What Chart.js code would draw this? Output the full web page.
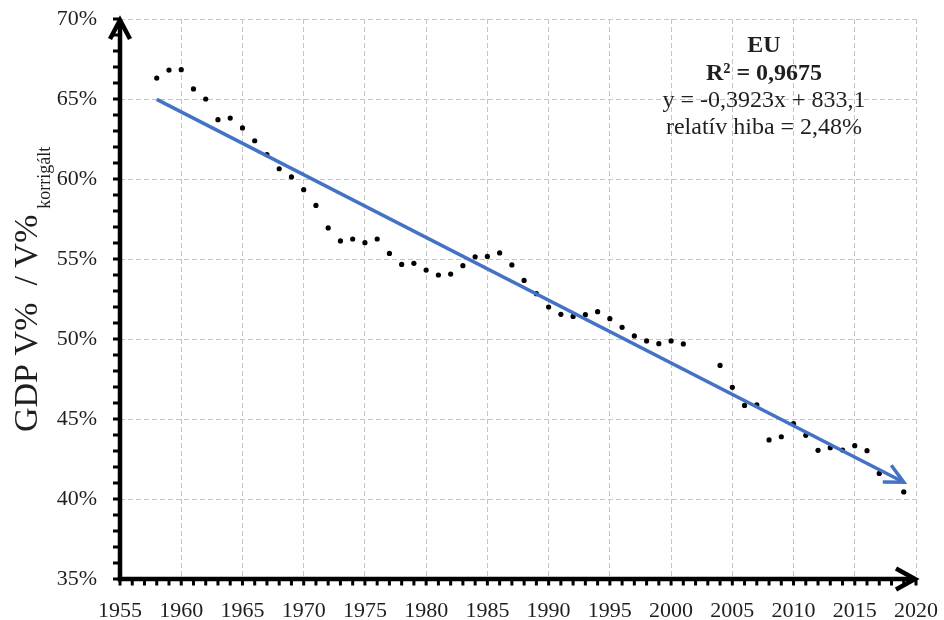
<!DOCTYPE html>
<html><head><meta charset="utf-8">
<script src="https://cdn.jsdelivr.net/npm/chart.js@4"></script>
<style>html,body{margin:0;padding:0;background:#fff}#wrap{width:944px;height:620px}</style>
</head><body><div id="wrap"><canvas id="c" width="944" height="620"></canvas></div>
<script>
// ---- data ----
const years = [1958,1959,1960,1961,1962,1963,1964,1965,1966,1967,1968,1969,1970,1971,1972,1973,1974,1975,1976,1977,1978,1979,1980,1981,1982,1983,1984,1985,1986,1987,1988,1989,1990,1991,1992,1993,1994,1995,1996,1997,1998,1999,2000,2001,2004,2005,2006,2007,2008,2009,2010,2011,2012,2013,2014,2015,2016,2017,2019];
const values = [66.31,66.81,66.83,65.63,65.00,63.71,63.81,63.19,62.39,61.52,60.64,60.13,59.33,58.35,56.94,56.13,56.25,56.02,56.25,55.35,54.66,54.73,54.31,54.00,54.06,54.58,55.14,55.16,55.38,54.63,53.66,52.83,52.00,51.54,51.41,51.52,51.71,51.27,50.73,50.19,49.88,49.71,49.88,49.69,48.35,46.98,45.85,45.88,43.69,43.89,44.71,43.98,43.04,43.21,43.06,43.33,43.02,41.60,40.44];
const trendYears = [1958, 2019];
const trendValues = [64.98, 41.05];
const xTickValues = [1955,1960,1965,1970,1975,1980,1985,1990,1995,2000,2005,2010,2015,2020];
const yTickValues = [35,40,45,50,55,60,65,70];
const annotationLines = ['EU', 'R² = 0,9675', 'y = -0,3923x + 833,1', 'relatív hiba = 2,48%'];
const axisTitleMain = 'GDP V%  / V%';
const axisTitleSub = 'korrigált';

const FONT = '"Liberation Serif", "DejaVu Serif", serif';
const TEXT = '#1f1f1f';

const scatterData = years.map((y, i) => ({x: y, y: values[i]}));
const trendData = trendYears.map((y, i) => ({x: y, y: trendValues[i]}));

function zeroPad(s) { s.paddingTop = 0; s.paddingBottom = 0; s.paddingLeft = 0; s.paddingRight = 0; }

const decorPlugin = {
  id: 'decor',
  afterDatasetsDraw(chart) {
    const ctx = chart.ctx;
    const meta = chart.getDatasetMeta(0);
    const pts = meta.data;
    const a = pts[pts.length - 2], b = pts[pts.length - 1];
    const ang = Math.atan2(b.y - a.y, b.x - a.x);
    const L = 21, spread = 0.46;
    ctx.save();
    ctx.strokeStyle = '#4472C4';
    ctx.lineWidth = 3.5;
    ctx.lineJoin = 'miter';
    ctx.lineCap = 'butt';
    ctx.beginPath();
    ctx.moveTo(b.x - L * Math.cos(ang - spread), b.y - L * Math.sin(ang - spread));
    ctx.lineTo(b.x, b.y);
    ctx.lineTo(b.x - L * Math.cos(ang + spread), b.y - L * Math.sin(ang + spread));
    ctx.stroke();
    ctx.restore();
  },
  afterDraw(chart) {
    const ctx = chart.ctx;
    const xs = chart.scales.x, ys = chart.scales.y;
    const x0 = xs.getPixelForValue(xs.min);
    const y0 = ys.getPixelForValue(ys.min);
    const xEnd = xs.getPixelForValue(xs.max);
    const yTop = ys.getPixelForValue(ys.max);
    ctx.save();
    ctx.fillStyle = '#000';
    for (let v = ys.min; v <= ys.max; v += 1) {
      const py = ys.getPixelForValue(v);
      ctx.fillRect(x0 - 7, py - 1.5, 6, 3);
    }
    for (let v = xs.min; v <= xs.max; v += 1) {
      const px = xs.getPixelForValue(v);
      ctx.fillRect(px - 1.5, y0 + 1, 3, 5.5);
    }
    ctx.strokeStyle = '#000';
    ctx.lineWidth = 4.5;
    ctx.lineCap = 'butt';
    ctx.lineJoin = 'miter';
    ctx.beginPath();
    ctx.moveTo(x0, y0 + 2.25);
    ctx.lineTo(x0, yTop + 1);
    ctx.stroke();
    ctx.beginPath();
    ctx.moveTo(x0 - 10, yTop + 20);
    ctx.lineTo(x0, yTop + 1);
    ctx.lineTo(x0 + 10, yTop + 20);
    ctx.stroke();
    ctx.beginPath();
    ctx.moveTo(x0 - 2.25, y0);
    ctx.lineTo(xEnd - 1, y0);
    ctx.stroke();
    ctx.beginPath();
    ctx.moveTo(xEnd - 20, y0 - 10.5);
    ctx.lineTo(xEnd - 1, y0);
    ctx.lineTo(xEnd - 20, y0 + 10.5);
    ctx.stroke();

    ctx.fillStyle = TEXT;
    ctx.translate(37, 432);
    ctx.rotate(-Math.PI / 2);
    ctx.textAlign = 'left';
    ctx.textBaseline = 'alphabetic';
    ctx.font = '34px ' + FONT;
    ctx.fillText(axisTitleMain, 0, 0);
    const w = ctx.measureText(axisTitleMain).width;
    ctx.font = '18px ' + FONT;
    ctx.fillText(axisTitleSub, w + 6, 13);
    ctx.restore();

    ctx.save();
    ctx.fillStyle = TEXT;
    ctx.textAlign = 'center';
    ctx.textBaseline = 'alphabetic';
    const baselines = [52, 80, 107, 134];
    annotationLines.forEach((t, i) => {
      ctx.font = (i < 2 ? 'bold ' : '') + '24px ' + FONT;
      ctx.fillText(t, 764, baselines[i]);
    });
    ctx.restore();
  }
};

new Chart(document.getElementById('c'), {
  type: 'scatter',
  data: {
    datasets: [
      {
        type: 'line',
        data: trendData,
        borderColor: '#4472C4',
        borderWidth: 3.5,
        pointRadius: 0,
        fill: false,
        tension: 0,
        order: 0
      },
      {
        type: 'scatter',
        data: scatterData,
        backgroundColor: '#000',
        borderWidth: 0,
        pointRadius: 2.6,
        order: 1
      }
    ]
  },
  options: {
    responsive: false,
    animation: false,
    devicePixelRatio: 1,
    layout: { padding: { left: 0, top: 19, right: 28, bottom: 0 } },
    plugins: { legend: { display: false }, tooltip: { enabled: false }, title: { display: false } },
    scales: {
      x: {
        type: 'linear',
        min: 1955, max: 2020,
        afterBuildTicks: s => { s.ticks = xTickValues.map(v => ({value: v})); },
        afterFit: s => { s.height = 41; zeroPad(s); },
        ticks: { callback: v => String(v), font: { family: FONT, size: 22 }, color: TEXT, padding: 19, maxRotation: 0, autoSkip: false },
        grid: { color: '#c4c4c4', lineWidth: 1, drawTicks: false },
        border: { display: false, dash: [5, 3] }
      },
      y: {
        type: 'linear',
        min: 35, max: 70,
        afterBuildTicks: s => { s.ticks = yTickValues.map(v => ({value: v})); },
        afterFit: s => { s.width = 120; zeroPad(s); },
        ticks: { callback: v => v + '%', font: { family: FONT, size: 22 }, color: TEXT, padding: 23, autoSkip: false },
        grid: { color: '#c4c4c4', lineWidth: 1, drawTicks: false },
        border: { display: false, dash: [5, 3] }
      }
    }
  },
  plugins: [decorPlugin]
});
</script>
</body></html>
